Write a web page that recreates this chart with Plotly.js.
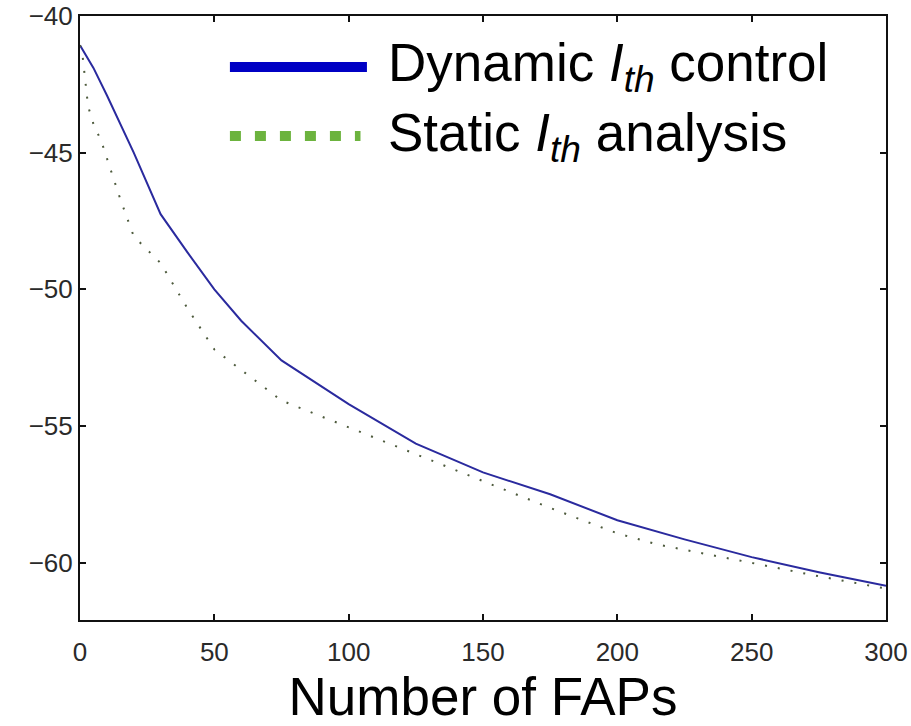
<!DOCTYPE html>
<html>
<head>
<meta charset="utf-8">
<script src="https://cdn.plot.ly/plotly-3.0.1.min.js"></script>
<style>html,body{margin:0;padding:0;background:#fff;}#chart{width:911px;height:726px;}</style>
</head>
<body>
<div id="chart"></div>
<script>
// Number of FAPs (x) and values (y)
var dynamicX = [0, 5, 10, 20, 30, 40, 50, 60, 75, 100, 125, 150, 175, 200, 225, 250, 275, 300];
var dynamicY = [-41.07, -41.9, -42.9, -45.0, -47.25, -48.65, -50.0, -51.15, -52.6, -54.2, -55.65, -56.7, -57.5, -58.45, -59.15, -59.8, -60.35, -60.85];

var staticX = [0, 1, 3, 5, 8, 10, 15, 20, 25, 30, 40, 50, 60, 70, 75, 100, 130, 150, 175, 200, 215, 250, 275, 300];
var staticY = [-41.07, -41.5, -43.3, -43.95, -44.6, -45.2, -46.7, -48.06, -48.55, -49.04, -50.7, -52.2, -52.95, -53.7, -54.07, -55.05, -56.24, -57.03, -58.0, -58.93, -59.34, -60.01, -60.5, -60.95];

var seriesNames = ['Dynamic <i>I<sub>th</sub></i> control', 'Static <i>I<sub>th</sub></i> analysis'];
var xTicks = [0, 50, 100, 150, 200, 250, 300];
var yTicks = [-40, -45, -50, -55, -60];
var xTitle = 'Number of FAPs';

var FONT = 'Liberation Sans, Arial, sans-serif';

var traces = [
  {x: dynamicX, y: dynamicY, type: 'scatter', mode: 'lines', name: seriesNames[0], showlegend: false,
   line: {color: '#2a2a9e', width: 2}},
  {x: staticX, y: staticY, type: 'scatter', mode: 'lines', name: seriesNames[1], showlegend: false,
   line: {color: '#4d5a3c', width: 2, dash: '2px,11px'}}
];

// legend keys/labels placed in paper coordinates
var legendRows = [0.9156, 0.8013];
var shapes = [
  {type: 'line', xref: 'paper', yref: 'paper', x0: 0.186, x1: 0.356, y0: legendRows[0], y1: legendRows[0],
   line: {color: '#0000c4', width: 10}},
  {type: 'line', xref: 'paper', yref: 'paper', x0: 0.186, x1: 0.348, y0: legendRows[1], y1: legendRows[1],
   line: {color: '#6cb33e', width: 10, dash: '11px,14px'}}
];
var annotations = seriesNames.map(function (t, i) {
  return {text: t, xref: 'paper', yref: 'paper', x: 0.38, y: legendRows[i], xanchor: 'left', yanchor: 'middle',
          showarrow: false, font: {family: FONT, size: 53, color: '#000'}};
});

var axisCommon = {
  showline: true, linecolor: '#111', linewidth: 2, mirror: 'ticks',
  ticks: 'inside', ticklen: 6, tickwidth: 2, tickcolor: '#111',
  showgrid: false, zeroline: false,
  tickfont: {family: FONT, size: 26, color: '#2a2a2a'}
};

function fmt(v) { return v < 0 ? '\u2212' + Math.abs(v) : String(v); }

var layout = {
  width: 911, height: 726,
  margin: {l: 80, r: 25, t: 16, b: 106},
  paper_bgcolor: '#fff', plot_bgcolor: '#fff',
  showlegend: false,
  xaxis: Object.assign({}, axisCommon, {
    range: [0, 300], tickmode: 'array', tickvals: xTicks, ticktext: xTicks.map(fmt),
    ticklabelstandoff: 8,
    title: {text: xTitle, font: {family: FONT, size: 53, color: '#000'}, standoff: 4}
  }),
  yaxis: Object.assign({}, axisCommon, {
    range: [-62.1, -40], tickmode: 'array', tickvals: yTicks, ticktext: yTicks.map(fmt),
    ticklabelstandoff: 0
  }),
  shapes: shapes,
  annotations: annotations
};

Plotly.newPlot('chart', traces, layout, {staticPlot: true, displayModeBar: false});
</script>
</body>
</html>
